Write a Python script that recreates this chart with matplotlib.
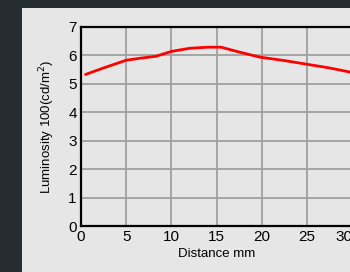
import matplotlib
matplotlib.use("Agg")
import matplotlib.pyplot as plt

plt.rcParams['font.family'] = ['Liberation Sans', 'DejaVu Sans']

distance_mm = [0.5, 2.5, 5.0, 6.5, 8.3, 10.0, 12.0, 14.0, 15.5, 17.5, 19.8, 22.5, 25.0, 27.5, 30.0]
luminosity = [5.33, 5.56, 5.83, 5.90, 5.97, 6.14, 6.25, 6.29, 6.29, 6.12, 5.94, 5.82, 5.69, 5.56, 5.40]
x_ticks = [0, 5, 10, 15, 20, 25, 30]
y_ticks = [0, 1, 2, 3, 4, 5, 6, 7]

W, H = 350, 272
fig = plt.figure(figsize=(W / 100, H / 100), dpi=100, facecolor='#262d31')
bg = fig.add_axes([22 / W, 0, 1 - 22 / W, 1 - 8 / H], zorder=-1)
bg.set_axis_off()
bg.add_patch(plt.Rectangle((0, 0), 1, 1, transform=bg.transAxes, facecolor='#e6e6e6', edgecolor='none'))

left, right, top, bottom = 81, 352, 27, 226
ax = fig.add_axes([left / W, 1 - bottom / H, (right - left) / W, (bottom - top) / H])
ax.set_facecolor('#e6e6e6')
ax.plot(distance_mm, luminosity, color='#ff0000', lw=2.0, solid_capstyle='round')
ax.set_xlim(0, 30)
ax.set_ylim(0, 7)
ax.set_xticks(x_ticks)
ax.set_yticks(y_ticks)
ax.tick_params(length=0, labelsize=11, pad=3, colors='black')
ax.get_xticklabels()[-1].set_horizontalalignment('right')
ax.grid(True, color='#a0a0a0', lw=1.3)
ax.set_axisbelow(True)
for s in ['left', 'bottom', 'top']:
    ax.spines[s].set_color('black')
    ax.spines[s].set_linewidth(1.6)
ax.spines['right'].set_visible(False)
ax.set_xlabel('Distance mm', fontsize=9.5, labelpad=3)
ax.set_ylabel('Luminosity 100(cd/m$^2$)', fontsize=9.5, labelpad=8)

fig.savefig('out.png', dpi=100, facecolor=fig.get_facecolor())
